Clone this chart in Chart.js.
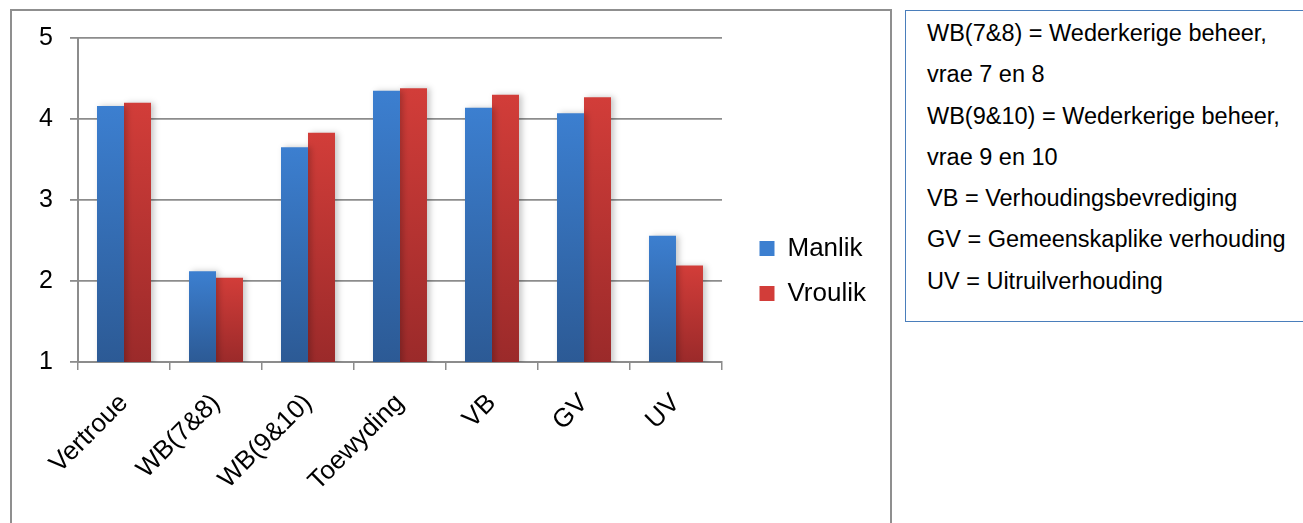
<!DOCTYPE html>
<html>
<head>
<meta charset="utf-8">
<script src="https://cdn.jsdelivr.net/npm/chart.js@4.4.1/dist/chart.umd.min.js"></script>
<style>
  html, body { margin: 0; padding: 0; background: #ffffff; overflow: hidden; }
  body { width: 1303px; height: 523px; position: relative; font-family: "Liberation Sans", Arial, sans-serif; }
  #frame {
    position: absolute; left: 10px; top: 9px; width: 878px; height: 530px;
    border: 2px solid #8f8f8f; border-bottom: none; box-sizing: content-box;
  }
  #wrap { position: absolute; left: 0; top: 1px; width: 878px; height: 520px; }
  #notes {
    position: absolute; left: 905px; top: 10px; width: 420px; height: 308px;
    border: 1.5px solid #4a7ebb; box-sizing: content-box;
    padding: 2px 0 0 21px; font-size: 23.5px; line-height: 41.3px; color: #000;
    white-space: nowrap;
  }
</style>
</head>
<body>
<div id="frame"><div id="wrap"><canvas id="chart"></canvas></div></div>
<div id="notes"></div>
<script>
// Mean scores per relationship dimension, by gender
const categories = ['Vertroue', 'WB(7&8)', 'WB(9&10)', 'Toewyding', 'VB', 'GV', 'UV'];
const manlik  = [4.16, 2.12, 3.65, 4.35, 4.14, 4.07, 2.56];
const vroulik = [4.20, 2.04, 3.83, 4.38, 4.30, 4.27, 2.19];
const seriesNames = ['Manlik', 'Vroulik'];
const yTicks = [1, 2, 3, 4, 5];
const notes = [
  'WB(7&8) = Wederkerige beheer,',
  'vrae 7 en 8',
  'WB(9&10) = Wederkerige beheer,',
  'vrae 9 en 10',
  'VB = Verhoudingsbevrediging',
  'GV = Gemeenskaplike verhouding',
  'UV = Uitruilverhouding'
];

// abbreviation key beside the chart
const notesEl = document.getElementById('notes');
notes.forEach(t => { const d = document.createElement('div'); d.textContent = t; notesEl.appendChild(d); });

Chart.defaults.font.family = '"Liberation Sans", Arial, sans-serif';
Chart.defaults.color = '#000000';

const blue = ['#3c7fd0', '#2c5a95'];
const red = ['#d23d39', '#9b2a2a'];

// vertical gradient per bar: lighter at the top, darker at the base
function barGradient(cols) {
  return (ctx) => {
    const chart = ctx.chart;
    const ys = chart.scales && chart.scales.y;
    if (!chart.chartArea || !ys || ctx.raw == null) return cols[0];
    const y0 = ys.getPixelForValue(ctx.raw);
    const y1 = ys.getPixelForValue(ys.min);
    const g = chart.ctx.createLinearGradient(0, y0, 0, y1);
    g.addColorStop(0, cols[0]);
    g.addColorStop(1, cols[1]);
    return g;
  };
}

// soft drop shadow behind the bars
const barShadow = {
  id: 'barShadow',
  beforeDatasetDraw(chart) {
    const c = chart.ctx;
    c.save();
    c.shadowColor = 'rgba(0,0,0,0.22)';
    c.shadowBlur = 6;
    c.shadowOffsetX = 3;
    c.shadowOffsetY = 0;
  },
  afterDatasetDraw(chart) { chart.ctx.restore(); }
};

new Chart(document.getElementById('chart'), {
  type: 'bar',
  data: {
    labels: categories,
    datasets: [
      { label: seriesNames[0], data: manlik, backgroundColor: barGradient(blue),
        categoryPercentage: 0.587, barPercentage: 1.0 },
      { label: seriesNames[1], data: vroulik, backgroundColor: barGradient(red),
        categoryPercentage: 0.587, barPercentage: 1.0 }
    ]
  },
  plugins: [barShadow],
  options: {
    responsive: true,
    maintainAspectRatio: false,
    animation: false,
    layout: { padding: { left: 0, top: 26, right: 14, bottom: 28 } },
    plugins: {
      tooltip: { enabled: false },
      title: { display: false },
      subtitle: {
        display: true, text: ' ', position: 'right', weight: 500,
        font: { size: 1, lineHeight: 1 }, padding: { top: 9, bottom: 8.5 }
      },
      legend: {
        position: 'right',
        align: 'center',
        labels: {
          boxWidth: 15, boxHeight: 15, padding: 19,
          font: { size: 26 }, color: '#000000',
          generateLabels(chart) {
            const cols = [blue, red];
            return chart.data.datasets.map((ds, i) => ({
              text: ds.label, fillStyle: cols[i][0], strokeStyle: cols[i][0],
              lineWidth: 0, hidden: false, datasetIndex: i
            }));
          }
        }
      }
    },
    scales: {
      x: {
        grid: { display: true, drawOnChartArea: false, drawTicks: true, tickLength: 8,
                offset: true, color: '#8c8c8c', lineWidth: 1.5 },
        border: { display: true, color: '#8c8c8c', width: 2 },
        ticks: { font: { size: 26 }, color: '#000', maxRotation: 45, minRotation: 45,
                 padding: 18, labelOffset: 0 },
        afterFit(s) { s.height = 142; s.paddingLeft = 0; s.paddingRight = 0; }
      },
      y: {
        min: 1, max: 5,
        afterBuildTicks(s) { s.ticks = yTicks.map(v => ({ value: v })); },
        grid: { color: '#8c8c8c', lineWidth: 1.8, tickLength: 8, drawTicks: true },
        border: { display: true, color: '#8c8c8c', width: 2 },
        ticks: { font: { size: 25 }, color: '#000', padding: 17, stepSize: 1 },
        afterFit(s) { s.width = 66; s.paddingTop = 0; s.paddingBottom = 0; }
      }
    }
  }
});
</script>
</body>
</html>
